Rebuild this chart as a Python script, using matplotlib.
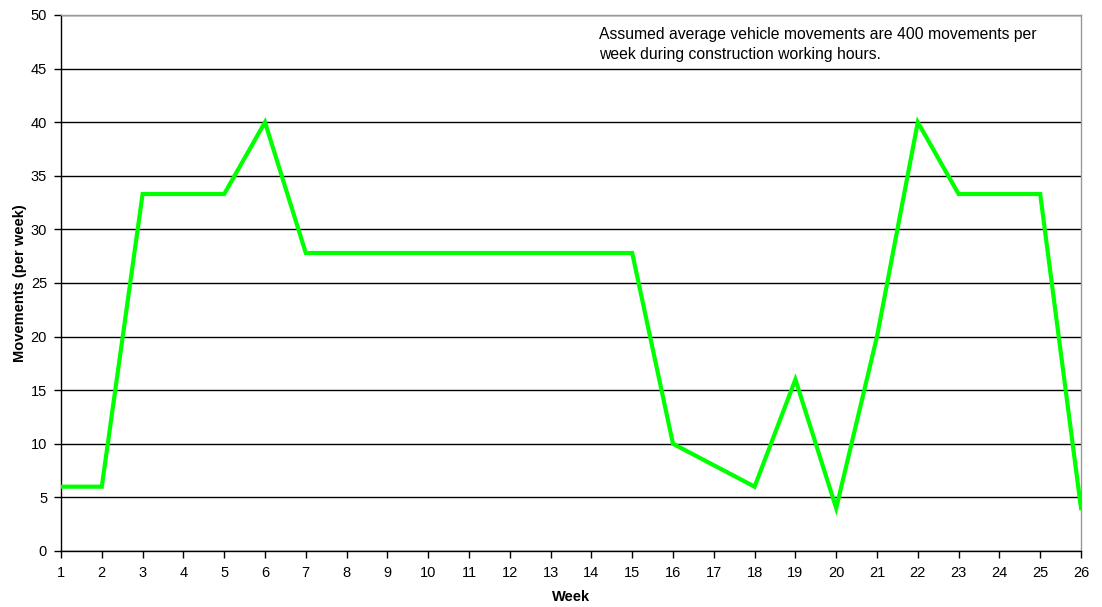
import matplotlib
matplotlib.use("Agg")
import matplotlib.pyplot as plt

plt.rcParams['font.family'] = ['Liberation Sans', 'DejaVu Sans']

weeks = list(range(1, 27))
movements = [6, 6, 33.3, 33.3, 33.3, 40, 27.8, 27.8, 27.8, 27.8, 27.8, 27.8, 27.8,
             27.8, 27.8, 10, 8, 6, 16, 4, 20, 40, 33.3, 33.3, 33.3, 4]
y_ticks = list(range(0, 51, 5))
note = ("Assumed average vehicle movements are 400 movements per\n"
        "week during construction working hours.")

fig = plt.figure(figsize=(11.02, 6.07), dpi=100)
ax = fig.add_axes([61 / 1102, 1 - 551 / 607, 1020 / 1102, 536 / 607])

ax.plot(weeks, movements, color='#00ff00', linewidth=3, solid_joinstyle='miter', zorder=3)

ax.set_xlim(1, 26)
ax.set_ylim(0, 50)
ax.set_xticks(weeks)
ax.set_yticks(y_ticks)
ax.yaxis.grid(True, color='black', linewidth=1)
ax.set_axisbelow(True)

for side in ['left', 'bottom']:
    ax.spines[side].set_color('black')
    ax.spines[side].set_linewidth(1)
for side in ['top', 'right']:
    ax.spines[side].set_color('#999999')
    ax.spines[side].set_linewidth(1)

ax.tick_params(axis='both', direction='out', length=5, width=1, labelsize=10.5, colors='black')
ax.tick_params(axis='x', pad=6)
ax.tick_params(axis='y', pad=5)

ax.set_xlabel('Week', fontsize=10.5, fontweight='bold', labelpad=7)
ax.set_ylabel('Movements (per week)', fontsize=10.5, fontweight='bold', labelpad=3)

ax.text(0.527, 0.978, note, transform=ax.transAxes, fontsize=11.3, va='top', ha='left',
        linespacing=1.45)

fig.savefig('out.png', dpi=100)
